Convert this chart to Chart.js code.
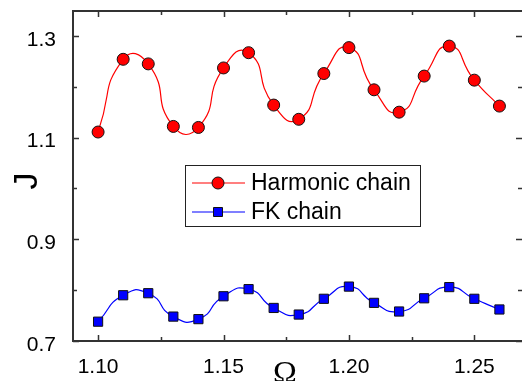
<!DOCTYPE html>
<html>
<head>
<meta charset="utf-8">
<script src="https://cdn.jsdelivr.net/npm/chart.js@4"></script>
<style>
  html, body { margin: 0; padding: 0; background: #fff; }
  #wrap { width: 522px; height: 381px; }
</style>
</head>
<body>
<div id="wrap"><canvas id="graficoJ"></canvas></div>
<script>
const omega = [1.10, 1.11, 1.12, 1.13, 1.14, 1.15, 1.16, 1.17, 1.18, 1.19, 1.20, 1.21, 1.22, 1.23, 1.24, 1.25, 1.26];
const harmonicJ = [1.111, 1.254, 1.245, 1.122, 1.120, 1.237, 1.267, 1.164, 1.136, 1.226, 1.277, 1.194, 1.150, 1.221, 1.280, 1.213, 1.162];
const fkJ = [0.738, 0.790, 0.794, 0.748, 0.743, 0.788, 0.802, 0.765, 0.752, 0.783, 0.807, 0.775, 0.758, 0.784, 0.806, 0.783, 0.762];
const xTicks = [1.10, 1.125, 1.15, 1.175, 1.20, 1.225, 1.25];
const yTicks = [0.7, 0.8, 0.9, 1.0, 1.1, 1.2, 1.3];
const seriesNames = ['Harmonic chain', 'FK chain'];

const isMajorX = v => Math.abs(v * 20 - Math.round(v * 20)) < 1e-6;
const isMajorY = v => Math.round(v * 10) % 2 === 1;

// frame, inward ticks, axis titles, legend box
const framePlugin = {
  id: 'frame',
  afterDatasetsDraw(chart) {
    const { ctx, chartArea: a, scales } = chart;
    ctx.save();
    ctx.strokeStyle = '#333';
    ctx.lineWidth = 1.5;
    ctx.beginPath();
    xTicks.forEach(v => {
      const px = Math.round(scales.x.getPixelForValue(v)) + 0.5;
      const len = isMajorX(v) ? 6 : 4;
      ctx.moveTo(px, a.bottom); ctx.lineTo(px, a.bottom - len);
      ctx.moveTo(px, a.top); ctx.lineTo(px, a.top + len);
    });
    yTicks.forEach(v => {
      const py = Math.round(scales.y.getPixelForValue(v)) + 0.5;
      const len = isMajorY(v) ? 6 : 4;
      ctx.moveTo(a.left, py); ctx.lineTo(a.left + len, py);
      ctx.moveTo(a.right, py); ctx.lineTo(a.right - len, py);
    });
    ctx.stroke();
    ctx.lineWidth = 2;
    ctx.beginPath();
    ctx.moveTo(a.right, a.top); ctx.lineTo(a.left, a.top);
    ctx.lineTo(a.left, a.bottom); ctx.lineTo(a.right, a.bottom);
    ctx.stroke();

    // axis titles
    ctx.fillStyle = '#000';
    ctx.font = '32px "Liberation Serif", serif';
    ctx.textAlign = 'center';
    ctx.textBaseline = 'alphabetic';
    ctx.fillText('\u03A9', 285, 383);
    ctx.save();
    ctx.translate(37, 181);
    ctx.rotate(-Math.PI / 2);
    ctx.font = '34px "Liberation Sans", Arial, sans-serif';
    ctx.textBaseline = 'alphabetic';
    ctx.fillText('J', 0, 0);
    ctx.restore();

    // legend
    const bx = 185, by = 165, bw = 235, bh = 61;
    ctx.fillStyle = '#fff';
    ctx.fillRect(bx, by, bw, bh);
    ctx.strokeStyle = '#222';
    ctx.lineWidth = 1;
    ctx.strokeRect(bx + 0.5, by + 0.5, bw, bh);
    const rows = [183, 212];
    chart.data.datasets.forEach((ds, i) => {
      const y = rows[i];
      ctx.strokeStyle = ds.borderColor;
      ctx.lineWidth = 1.2;
      ctx.beginPath();
      ctx.moveTo(192, y); ctx.lineTo(245, y);
      ctx.stroke();
      ctx.fillStyle = ds.pointBackgroundColor;
      ctx.strokeStyle = '#111';
      ctx.lineWidth = 1;
      ctx.beginPath();
      if (ds.pointStyle === 'rect') {
        ctx.rect(213.5, y - 4.5, 9, 9);
      } else {
        ctx.arc(218, y, 6, 0, Math.PI * 2);
      }
      ctx.fill(); ctx.stroke();
      ctx.fillStyle = '#000';
      ctx.font = '23px "Liberation Sans", Arial, sans-serif';
      ctx.textAlign = 'left';
      ctx.textBaseline = 'middle';
      ctx.fillText(ds.label, 251, y + 1);
    });
    ctx.restore();
  }
};

new Chart(document.getElementById('graficoJ'), {
  type: 'line',
  data: {
    datasets: [
      {
        label: seriesNames[0],
        data: omega.map((x, i) => ({ x, y: harmonicJ[i] })),
        borderColor: '#ff0000',
        borderWidth: 1.2,
        pointStyle: 'circle',
        pointRadius: 6,
        pointBackgroundColor: '#ff0000',
        pointBorderColor: '#111',
        pointBorderWidth: 1,
        tension: 0.6
      },
      {
        label: seriesNames[1],
        data: omega.map((x, i) => ({ x, y: fkJ[i] })),
        borderColor: '#0000ff',
        borderWidth: 1.2,
        pointStyle: 'rect',
        pointRadius: 6.5,
        pointBackgroundColor: '#0000ff',
        pointBorderColor: '#111',
        pointBorderWidth: 1,
        tension: 0.6
      }
    ]
  },
  options: {
    responsive: true,
    maintainAspectRatio: false,
    animation: false,
    layout: { autoPadding: false, padding: { left: 0, right: 0, top: 11, bottom: 0 } },
    plugins: {
      legend: { display: false },
      tooltip: { enabled: false }
    },
    scales: {
      x: {
        type: 'linear',
        min: 1.09,
        max: 1.269,
        grid: { display: false },
        border: { display: false },
        afterBuildTicks: s => { s.ticks = xTicks.map(value => ({ value })); },
        afterFit: s => { s.height = 40; s.paddingLeft = 0; s.paddingRight = 0; },
        ticks: {
          padding: 6,
          color: '#000',
          font: { family: '"Liberation Sans", Arial, sans-serif', size: 21 },
          maxRotation: 0,
          autoSkip: false,
          callback: v => isMajorX(v) ? v.toFixed(2) : ''
        }
      },
      y: {
        min: 0.7,
        max: 1.349,
        grid: { display: false },
        border: { display: false },
        afterBuildTicks: s => { s.ticks = yTicks.map(value => ({ value })); },
        afterFit: s => { s.width = 73; s.paddingTop = 0; s.paddingBottom = 0; },
        ticks: {
          padding: 9,
          color: '#000',
          labelOffset: 4,
          font: { family: '"Liberation Sans", Arial, sans-serif', size: 21 },
          autoSkip: false,
          callback: v => isMajorY(v) ? v.toFixed(1) : ''
        }
      }
    }
  },
  plugins: [framePlugin]
});
</script>
</body>
</html>
